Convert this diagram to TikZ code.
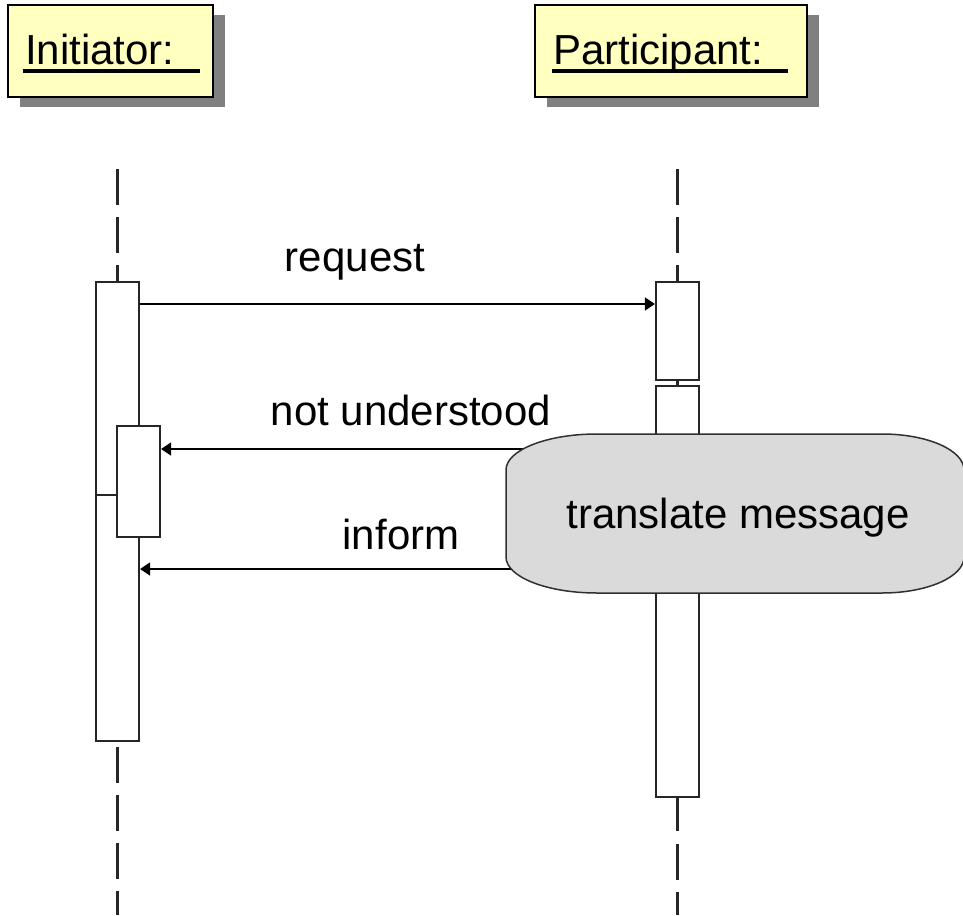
\documentclass[tikz,border=0pt]{standalone}
\usepackage{fontspec}
\setmainfont{Liberation Sans}
\usetikzlibrary{arrows.meta,calc}

\definecolor{headfill}{HTML}{FFFFC0}
\definecolor{shadowgray}{HTML}{808080}
\definecolor{actfill}{HTML}{DADADA}
\definecolor{actline}{HTML}{303030}

\tikzset{
  big/.style={font=\fontsize{42}{48}\selectfont, inner sep=0pt},
  headbox/.style={draw=black, line width=2pt, fill=headfill, inner sep=0pt},
  headshadow/.style={fill=shadowgray, draw=none, inner sep=0pt},
  actbar/.style={draw=black!85, line width=2.2pt, fill=white, inner sep=0pt, minimum width=43pt},
  lifeline/.style={draw=black!85, line width=2.2pt, dash pattern=on 36pt off 12pt},
  msg/.style={line width=1.8pt, -{Triangle[length=10pt,width=13pt]}},
  headline/.style={line width=3.4pt}
}

\begin{document}
\begin{tikzpicture}[x=1pt,y=-1pt]
  \useasboundingbox (0,0) rectangle (963,915);
  \fill[white] (0,0) rectangle (963,915);

  % object heads with drop shadows
  \node[headshadow, minimum width=205pt, minimum height=92pt] at (122.5,61) {};
  \node[headbox, minimum width=205pt, minimum height=92pt] (inihead) at (110.5,51) {};
  \node[big, anchor=base west] (initxt) at (25,65) {Initiator:};
  \draw[headline] ($(initxt.base west)+(-2,6)$) -- ($(initxt.base west)+(175,6)$);

  \node[headshadow, minimum width=272pt, minimum height=92pt] at (683,61) {};
  \node[headbox, minimum width=272pt, minimum height=92pt] (parthead) at (671,51) {};
  \node[big, anchor=base west] (parttxt) at (553,65) {Participant:};
  \draw[headline] ($(parttxt.base west)+(-1,6)$) -- ($(parttxt.base west)+(235,6)$);

  % activation bars
  \node[actbar, minimum height=213pt] (iA) at (117.5,388.5) {};
  \node[actbar, minimum height=246pt] (iB) at (117.5,618) {};
  \node[actbar, minimum height=111pt] (iN) at (138.5,481.5) {};
  \node[actbar, minimum height=98pt]  (pA) at (677.5,331) {};
  \node[actbar, minimum height=411pt] (pB) at (677.5,591.5) {};

  % lifelines
  \coordinate (itop) at (117.5,169);
  \coordinate (ptop) at (677.5,169);
  \coordinate (ilow) at (117.5,747);
  \coordinate (iend) at (117.5,915);
  \coordinate (pend) at (677.5,915);
  \draw[lifeline] (itop) -- (iA.north);
  \draw[lifeline] (ptop) -- (pA.north);
  \draw[draw=black!85, line width=2.2pt] (pA.south) -- (pB.north);
  \draw[lifeline] (ilow) -- (iend);
  \draw[draw=black!85, line width=2.2pt, dash pattern=on 33pt off 13pt on 36pt off 12pt] (pB.south) -- (pend);

  % messages
  \coordinate (yreq) at (0,304);
  \coordinate (ynu) at (0,449);
  \coordinate (yinf) at (0,569);
  \draw[msg] (iA.east |- yreq) -- (pA.west |- yreq);
  \draw[msg] (pB.west |- ynu) -- (iN.east |- ynu);
  \draw[msg] (pB.west |- yinf) -- (iB.east |- yinf);

  \node[big, anchor=base] (lreq) at (355,271) {request};
  \node[big, anchor=base] (lnu) at (411,425) {not understood};
  \node[big, anchor=base] (linf) at (401,549) {inform};

  % action state
  \draw[fill=actfill, draw=actline, line width=1.5pt]
    (597,434) -- (882,434)
    arc[start angle=-90, end angle=0, x radius=82, y radius=36] -- (964,557)
    arc[start angle=0, end angle=90, x radius=82, y radius=36] -- (597,593)
    arc[start angle=90, end angle=180, x radius=91, y radius=36] -- (506,470)
    arc[start angle=180, end angle=270, x radius=91, y radius=36] -- cycle;
  \node[big, anchor=base] (act) at (738,528) {translate message};
\end{tikzpicture}
\end{document}
